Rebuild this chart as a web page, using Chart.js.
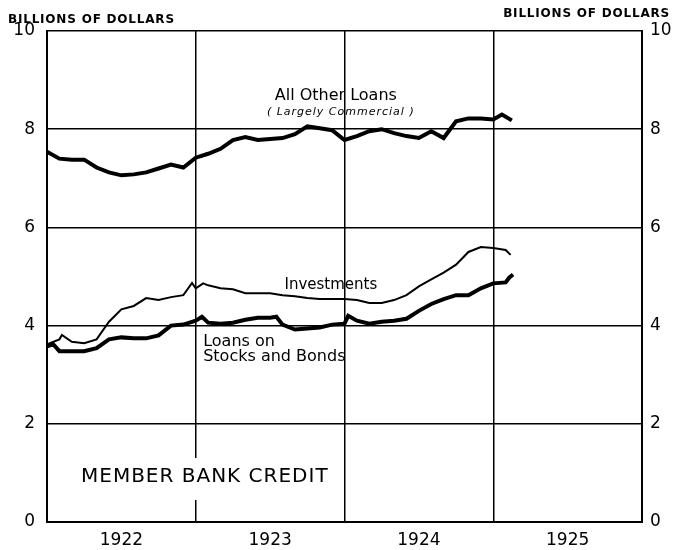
<!DOCTYPE html>
<html>
<head>
<meta charset="utf-8">
<script src="https://cdn.jsdelivr.net/npm/chart.js@4.4.1/dist/chart.umd.min.js"></script>
<style>
  html, body { margin: 0; padding: 0; background: #fff; }
  #wrap { width: 676px; height: 550px; }
</style>
</head>
<body>
<div id="wrap"><canvas id="credit-chart" width="676" height="550"></canvas></div>
<script>
// Member bank credit, billions of dollars. x = months since Jan 1922
var yearLabels = ['1922', '1923', '1924', '1925'];
var yTicks = [0, 2, 4, 6, 8, 10];

var otherMonths = [0,1,2,3,4,5,6,7,8,9,10,11,12,13,14,15,16,17,18,19,20,21,22,23,24,25,26,27,28,29,30,31,32,33,34,35,36,36.7,37.5];
var otherLoans  = [7.54,7.40,7.38,7.38,7.22,7.12,7.06,7.08,7.12,7.20,7.28,7.22,7.42,7.50,7.60,7.78,7.84,7.78,7.80,7.82,7.90,8.06,8.02,7.98,7.78,7.86,7.96,8.00,7.92,7.86,7.82,7.96,7.82,8.16,8.22,8.22,8.20,8.30,8.18];

var invMonths   = [0,1,1.2,2,3,4,5,6,7,8,9,10,11,11.7,12,12.6,13,14,15,16,17,18,19,20,21,22,23,24,25,26,27,28,29,30,31,32,33,34,35,36,37,37.4];
var investments = [3.62,3.72,3.81,3.67,3.64,3.72,4.08,4.33,4.40,4.56,4.52,4.58,4.62,4.87,4.76,4.86,4.82,4.76,4.74,4.66,4.66,4.66,4.62,4.60,4.56,4.54,4.54,4.54,4.52,4.46,4.46,4.52,4.62,4.80,4.94,5.08,5.24,5.50,5.60,5.58,5.54,5.44];

var loanMonths  = [0,0.5,1,2,3,4,5,6,7,8,9,10,11,12,12.5,13,14,15,16,17,18,18.5,19,20,21,22,23,24,24.3,25,26,27,28,29,30,31,32,33,34,35,36,37,37.3,37.6];
var stockLoans  = [3.58,3.62,3.48,3.48,3.48,3.54,3.72,3.76,3.74,3.74,3.80,4.00,4.02,4.10,4.18,4.06,4.04,4.06,4.12,4.16,4.16,4.18,4.02,3.92,3.94,3.96,4.02,4.04,4.20,4.10,4.04,4.08,4.10,4.14,4.30,4.44,4.54,4.62,4.62,4.76,4.86,4.88,4.98,5.04];

function pairs(xs, ys) {
    return xs.map(function(x, i) { return { x: x, y: ys[i] }; });
}

var FONT = '"DejaVu Sans", "Liberation Sans", sans-serif';

// headers outside the plot and labels inside it
var textPlugin = {
    id: 'chartText',
    afterDraw: function(chart) {
        var ctx = chart.ctx;
        var xs = chart.scales.x, ys = chart.scales.y;
        ctx.save();
        ctx.fillStyle = '#000';
        ctx.textBaseline = 'middle';

        ctx.letterSpacing = '0.8px';
        ctx.textAlign = 'left';
        ctx.font = 'bold 12px ' + FONT;
        ctx.fillText('BILLIONS OF DOLLARS', 8, 20);
        ctx.textAlign = 'right';
        ctx.fillText('BILLIONS OF DOLLARS', 670, 14);

        ctx.letterSpacing = '0px';
        ctx.textAlign = 'center';
        ctx.font = '16px ' + FONT;
        ctx.fillText('All Other Loans', xs.getPixelForValue(23.3), ys.getPixelForValue(8.68));
        ctx.letterSpacing = '1px';
        ctx.font = 'italic 11px ' + FONT;
        ctx.fillText('( Largely Commercial )', xs.getPixelForValue(23.7), ys.getPixelForValue(8.35));

        ctx.letterSpacing = '0px';
        ctx.font = '15px ' + FONT;
        ctx.fillText('Investments', xs.getPixelForValue(22.9), ys.getPixelForValue(4.83));

        ctx.textAlign = 'left';
        ctx.font = '16px ' + FONT;
        ctx.fillText('Loans on', xs.getPixelForValue(12.6), ys.getPixelForValue(3.67));
        ctx.fillText('Stocks and Bonds', xs.getPixelForValue(12.6), ys.getPixelForValue(3.36));

        // the title sits on a blank patch that interrupts the 1923 grid line
        ctx.fillStyle = '#fff';
        ctx.fillRect(78, 458, 250, 42);
        ctx.fillStyle = '#000';
        ctx.font = '20px ' + FONT;
        ctx.letterSpacing = '1px';
        ctx.fillText('MEMBER BANK CREDIT', 81, 477);
        ctx.restore();
    }
};

var yAxisCommon = {
    min: 0, max: 10,
    afterBuildTicks: function(axis) { axis.ticks = yTicks.map(function(v) { return { value: v }; }); },
    ticks: { color: '#000', font: { family: FONT, size: 17 } },
    border: { color: '#000', width: 2 }
};

new Chart(document.getElementById('credit-chart').getContext('2d'), {
    type: 'line',
    data: {
        datasets: [
            { label: 'All Other Loans', data: pairs(otherMonths, otherLoans), borderColor: '#000', borderWidth: 4, pointRadius: 0, tension: 0 },
            { label: 'Investments', data: pairs(invMonths, investments), borderColor: '#000', borderWidth: 2, pointRadius: 0, tension: 0 },
            { label: 'Loans on Stocks and Bonds', data: pairs(loanMonths, stockLoans), borderColor: '#000', borderWidth: 4, pointRadius: 0, tension: 0 }
        ]
    },
    options: {
        responsive: false, animation: false,
        layout: { padding: { top: 31, left: 0, right: 0, bottom: 0 } },
        plugins: { legend: { display: false }, tooltip: { enabled: false } },
        scales: {
            x: {
                type: 'linear', min: 0, max: 48,
                afterBuildTicks: function(axis) {
                    var t = [];
                    for (var m = 0; m <= 48; m += 6) t.push({ value: m });
                    axis.ticks = t;
                },
                afterFit: function(axis) { axis.height = 28; },
                ticks: {
                    color: '#000', autoSkip: false, maxRotation: 0, padding: 8,
                    font: { family: FONT, size: 17 },
                    callback: function(v) { return (v % 12 === 6) ? yearLabels[(v - 6) / 12] : ''; }
                },
                grid: {
                    drawTicks: false, lineWidth: 1.5,
                    color: function(c) { return (c.tick && c.tick.value % 12 === 0) ? '#000' : 'rgba(0,0,0,0)'; }
                },
                border: { color: '#000', width: 2 }
            },
            y: Object.assign({}, yAxisCommon, {
                position: 'left',
                afterFit: function(axis) { axis.width = 47; },
                ticks: Object.assign({}, yAxisCommon.ticks, { padding: 12 }),
                grid: { drawTicks: false, color: '#000', lineWidth: 1.5 }
            }),
            y2: Object.assign({}, yAxisCommon, {
                position: 'right',
                afterFit: function(axis) { axis.width = 34; },
                ticks: Object.assign({}, yAxisCommon.ticks, { padding: 8 }),
                grid: { display: false, drawTicks: false }
            })
        }
    },
    plugins: [textPlugin]
});
</script>
</body>
</html>
